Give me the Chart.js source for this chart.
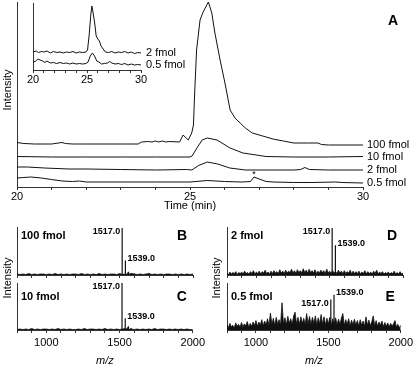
<!DOCTYPE html>
<html>
<head>
<meta charset="utf-8">
<title>Sensitivity: chromatograms and spectra</title>
<script src="https://cdn.jsdelivr.net/npm/chart.js@4.4.1/dist/chart.umd.min.js"></script>
<style>
  body { margin: 0; background: #fff; }
  #fig { position: relative; width: 416px; height: 368px; overflow: hidden; background: #fff;
         font-family: "Liberation Sans", Arial, Helvetica, sans-serif; color: #000; }
  #fig canvas { position: absolute; }
  .ylab { position: absolute; width: 70px; height: 14px; line-height: 14px; font-size: 11px;
          text-align: center; transform: rotate(-90deg); white-space: nowrap; }
</style>
</head>
<body>
<div id="fig">
  <canvas id="chromA" width="416" height="215" style="left:0;top:0"></canvas>
  <canvas id="inset" width="200" height="90" style="left:0;top:0"></canvas>
  <canvas id="specB" width="208" height="60" style="left:0;top:220px"></canvas>
  <canvas id="specC" width="208" height="90" style="left:0;top:278px"></canvas>
  <canvas id="specD" width="208" height="60" style="left:208px;top:220px"></canvas>
  <canvas id="specE" width="208" height="90" style="left:208px;top:278px"></canvas>
  <div class="ylab" style="left:-28px;top:83px">Intensity</div>
  <div class="ylab" style="left:-28px;top:271px">Intensity</div>
  <div class="ylab" style="left:181px;top:271px">Intensity</div>
</div>
<script>
// ---- panel A: extracted ion chromatograms (time in min, stacked intensity) ----
const t100 = [20, 20.2, 20.5, 21, 21.3, 21.4, 21.6, 22, 23, 23.5, 23.6, 23.8, 23.9, 24, 24.1, 24.2, 24.3, 24.4, 24.7, 24.8, 24.95,
  25.05, 25.1, 25.13, 25.19, 25.29, 25.38, 25.53, 25.63, 25.72, 25.87, 26.01, 26.16, 26.3, 26.45, 26.6, 26.8, 27.1, 27.4, 27.7,
  28, 28.4, 28.7, 28.8, 29, 30];
const y100 = [44.5, 43.5, 43, 43, 44.5, 43.5, 43, 43, 43, 43, 45, 45.5, 45, 46, 45, 46, 45, 45.5, 45, 52, 47,
  54, 62, 90, 137, 167, 175, 185, 174, 154, 127, 104, 77, 69, 64, 59, 54, 51, 48, 46,
  44, 44, 44, 42.5, 42, 42];

const t10 = [20, 21, 22, 23, 24, 25, 25.06, 25.2, 25.35, 25.5, 25.78, 26.16, 26.53, 27.2, 28, 29, 30];
const y10 = [30.5, 30, 30, 30, 30, 30, 31, 39, 47, 49, 47, 39, 34, 30.5, 30, 30, 30.5];

const t2 = [20, 20.3, 20.8, 21.5, 22, 23, 24, 24.9, 25.05, 25.25, 25.5, 25.8, 26.15, 26.6, 27, 28, 28.2, 28.32, 28.45, 29, 30];
const y2 = [20, 20, 19, 18, 18, 17.5, 17, 17.5, 17, 21.5, 25, 23, 19, 17, 17, 17, 17.5, 19.5, 17.5, 17, 17];

const t05 = [20, 20.2, 20.4, 20.7, 21, 21.3, 21.6, 21.8, 22, 23, 24, 25, 25.5, 26, 26.5, 26.75, 26.85, 27, 27.2, 27.4,
  28, 28.5, 29.2, 29.4, 30];
const y05 = [9, 9.5, 10, 9, 7.5, 6, 5.5, 6, 5, 5, 5, 5, 6.5, 5.5, 5, 5.5, 10, 8, 5.5, 5,
  4.5, 4.5, 5, 4.5, 4];
const starAt = { t: 26.85, v: 12 };

// inset: 2 fmol and 0.5 fmol enlarged
const insetT2 = [20, 20.3, 20.5, 20.8, 21, 21.3, 21.6, 21.9, 22.2, 22.5, 22.8, 23.1, 23.4, 23.7, 24, 24.3, 24.6, 24.9,
  25.05, 25.2, 25.35, 25.45, 25.55, 25.7, 25.85, 26, 26.15, 26.3, 26.5, 26.7, 27, 27.3, 27.6, 27.9, 28.2, 28.5, 28.8,
  29.1, 29.4, 29.7, 30];
const insetY2 = [18, 19, 17.5, 18.5, 18, 19, 17, 18.5, 17.5, 18, 17, 18, 17.5, 18.5, 17, 18, 17.5, 18,
  20, 35, 55, 64, 58, 48, 34, 31, 29, 24, 21, 18, 17.5, 18.5, 17, 18, 17.5, 18.5, 17,
  18, 16.5, 17.5, 17];
const insetT05 = [20, 20.2, 20.45, 20.65, 20.9, 21.1, 21.3, 21.6, 21.9, 22.2, 22.5, 22.8, 23.1, 23.4, 23.7, 24, 24.3, 24.6,
  24.9, 25.1, 25.3, 25.5, 25.7, 25.9, 26.1, 26.35, 26.6, 26.9, 27.1, 27.3, 27.6, 27.9, 28.2, 28.5, 28.8, 29.1, 29.4,
  29.7, 30];
const insetY05 = [8, 8.5, 11, 10, 9, 7.5, 9, 7, 7.5, 6.5, 7.5, 6.5, 7, 6, 7, 6, 6.5, 6,
  6.5, 8, 14, 17, 14, 9, 8, 6, 6.5, 7, 8.5, 7, 6, 6.5, 5.5, 6.5, 5, 6, 5,
  5.5, 5];

// ---- panels B-E: MALDI spectra (m/z, relative intensity %) ----
const mzCoarse = [800, 820, 840, 860, 880, 900, 920, 940, 960, 980,
  1000, 1020, 1040, 1060, 1080, 1100, 1120, 1140, 1160, 1180,
  1200, 1220, 1240, 1260, 1280, 1300, 1320, 1340, 1360, 1380,
  1400, 1420, 1440, 1460, 1480, 1500, 1520, 1540, 1560, 1580,
  1600, 1620, 1640, 1660, 1680, 1700, 1720, 1740, 1760, 1780,
  1800, 1820, 1840, 1860, 1880, 1900, 1920, 1940, 1960, 1980,
  2000];
const mzFine = [800, 810, 820, 830, 840, 850, 860, 870, 880, 890,
  900, 910, 920, 930, 940, 950, 960, 970, 980, 990,
  1000, 1010, 1020, 1030, 1040, 1050, 1060, 1070, 1080, 1090,
  1100, 1110, 1120, 1130, 1140, 1150, 1160, 1170, 1180, 1190,
  1200, 1210, 1220, 1230, 1240, 1250, 1260, 1270, 1280, 1290,
  1300, 1310, 1320, 1330, 1340, 1350, 1360, 1370, 1380, 1390,
  1400, 1410, 1420, 1430, 1440, 1450, 1460, 1470, 1480, 1490,
  1500, 1510, 1520, 1530, 1540, 1550, 1560, 1570, 1580, 1590,
  1600, 1610, 1620, 1630, 1640, 1650, 1660, 1670, 1680, 1690,
  1700, 1710, 1720, 1730, 1740, 1750, 1760, 1770, 1780, 1790,
  1800, 1810, 1820, 1830, 1840, 1850, 1860, 1870, 1880, 1890,
  1900, 1910, 1920, 1930, 1940, 1950, 1960, 1970, 1980, 1990,
  2000];
const noiseB = [2, 1, 2, 1, 3, 1, 2, 1, 2, 2,  1, 2, 1, 3, 1, 2, 1, 2, 1, 2,  2, 1, 3, 1, 2, 1, 2, 1, 3, 1,
  2, 1, 2, 2, 1, 3, 1, 2, 1, 3,  2, 1, 2, 1, 2, 3, 1, 2, 1, 2,  1, 2, 2, 1, 2, 1, 2, 1, 2, 1,  2];
const noiseC = [1, 2, 1, 2, 1, 3, 1, 2, 1, 2,  2, 1, 2, 1, 3, 1, 2, 1, 2, 1,  1, 2, 1, 3, 1, 2, 2, 1, 2, 1,
  3, 1, 2, 1, 2, 1, 2, 3, 1, 2,  1, 2, 1, 2, 1, 2, 1, 3, 1, 2,  2, 1, 2, 1, 2, 1, 2, 1, 2, 1,  1];
const noiseD = [4, 1, 6, 2, 5, 3, 7, 1, 5, 3,
  6, 2, 8, 3, 5, 2, 7, 3, 9, 2,
  6, 3, 8, 2, 7, 4, 10, 3, 6, 2,
  8, 3, 9, 4, 7, 3, 11, 4, 8, 3,
  10, 4, 8, 5, 12, 4, 9, 3, 11, 5,
  9, 4, 13, 5, 10, 4, 12, 5, 9, 4,
  11, 3, 8, 4, 10, 5, 9, 3, 12, 4,
  8, 3, 9, 4, 7, 3, 10, 4, 8, 3,
  9, 3, 7, 4, 10, 2, 8, 3, 7, 3,
  8, 2, 6, 3, 9, 2, 7, 3, 6, 2,
  8, 3, 10, 2, 6, 3, 7, 2, 5, 3,
  6, 2, 5, 3, 8, 2, 5, 2, 7, 2,
  4];
const noiseE = [12, 5, 14, 7, 10, 4, 15, 8, 12, 6,
  16, 7, 13, 9, 18, 6, 14, 8, 17, 9,
  20, 8, 17, 10, 22, 9, 19, 11, 24, 10,
  36, 12, 25, 10, 27, 13, 22, 11, 58, 12,
  26, 11, 29, 14, 24, 12, 30, 38, 13, 27,
  12, 28, 14, 25, 11, 35, 13, 29, 12, 27,
  14, 30, 11, 26, 13, 33, 12, 28, 11, 25,
  13, 27, 10, 24, 12, 26, 11, 23, 12, 25,
  35, 10, 22, 12, 24, 9, 21, 11, 23, 10,
  20, 9, 22, 10, 19, 8, 28, 10, 21, 9,
  18, 30, 9, 20, 8, 17, 10, 19, 7, 16,
  8, 15, 7, 14, 9, 13, 20, 6, 12, 5,
  10];

const peakMzB = [1517.0, 1539.0, 1555, 1561, 1578, 1600];
const peakIntB = [98, 30, 5, 7, 4, 3];
const peakMzC = [1517.0, 1539.0, 1555, 1561, 1578];
const peakIntC = [100, 25, 6, 8, 4];
const peakMzD = [1517.0, 1539.0];
const peakIntD = [98, 62];
const peakMzE = [1517.0, 1539.0];
const peakIntE = [65, 75];
const labelledMz = [1517.0, 1539.0];

const FONT = '"Liberation Sans", Arial, Helvetica, sans-serif';
const INK = '#111';
const AXIS = '#333';

Chart.defaults.font.family = FONT;
Chart.defaults.font.size = 11;
Chart.defaults.color = '#000';
Chart.defaults.animation = false;
Chart.defaults.plugins.legend.display = false;
Chart.defaults.plugins.tooltip.enabled = false;

function trace(t, y, label) {
  return {
    label: label,
    data: t.map((v, i) => ({ x: v, y: y[i] })),
    borderColor: INK, borderWidth: 1, pointRadius: 0, tension: 0, fill: false
  };
}

function xAxis(min, max, step, labelEvery, height, pad, title) {
  return {
    type: 'linear', min: min, max: max,
    afterFit: s => { s.height = height; },
    grid: { display: true, drawOnChartArea: false, drawTicks: true, tickLength: 3, color: AXIS },
    border: { display: true, color: AXIS, width: 1 },
    ticks: {
      stepSize: step, padding: pad, maxRotation: 0, autoSkip: false,
      callback: v => (labelEvery && v % labelEvery === 0) ? String(v) : ''
    },
    title: title
  };
}

function yAxis(min, max, width) {
  return {
    type: 'linear', min: min, max: max,
    afterFit: s => { s.width = width; },
    grid: { display: false },
    border: { display: true, color: AXIS, width: 1 },
    ticks: { display: false }
  };
}

// names at the end of each trace, panel letter, asterisk
const traceLabels = {
  id: 'traceLabels',
  afterDatasetsDraw(chart, args, opts) {
    const { ctx, chartArea: a, scales: { x, y } } = chart;
    ctx.save();
    ctx.fillStyle = '#000';
    ctx.font = '11px ' + FONT;
    ctx.textAlign = 'left';
    ctx.textBaseline = 'middle';
    chart.data.datasets.forEach(ds => {
      const last = ds.data[ds.data.length - 1];
      ctx.fillText(ds.label, a.right + opts.gap, y.getPixelForValue(last.y));
    });
    if (opts.letter) {
      ctx.font = 'bold 14px ' + FONT;
      ctx.textAlign = 'center';
      ctx.fillText(opts.letter, a.right + 30, a.top + 19);
    }
    if (opts.star) {
      ctx.font = '9px ' + FONT;
      ctx.textAlign = 'center';
      ctx.fillText('*', x.getPixelForValue(opts.star.t), y.getPixelForValue(opts.star.v));
    }
    ctx.restore();
  }
};

new Chart(document.getElementById('chromA'), {
  type: 'line',
  data: { datasets: [trace(t100, y100, '100 fmol'), trace(t10, y10, '10 fmol'), trace(t2, y2, '2 fmol'), trace(t05, y05, '0.5 fmol')] },
  options: {
    responsive: false, devicePixelRatio: 1,
    layout: { padding: { left: 0, right: 53, top: 2, bottom: 0 } },
    scales: {
      x: xAxis(20, 30, 1, 5, 28, 0, { display: true, text: 'Time (min)', padding: { top: 0, bottom: 2 }, font: { size: 11 } }),
      y: yAxis(0, 185, 17)
    },
    plugins: { traceLabels: { gap: 4, letter: 'A', star: starAt } }
  },
  plugins: [traceLabels]
});

new Chart(document.getElementById('inset'), {
  type: 'line',
  data: { datasets: [trace(insetT2, insetY2, '2 fmol'), trace(insetT05, insetY05, '0.5 fmol')] },
  options: {
    responsive: false, devicePixelRatio: 1,
    layout: { padding: { left: 0, right: 59, top: 3, bottom: 0 } },
    scales: {
      x: xAxis(20, 30, 1, 5, 20, 0, { display: false }),
      y: yAxis(0, 67, 33)
    },
    plugins: { traceLabels: { gap: 5 } }
  },
  plugins: [traceLabels]
});

// sample amount, panel letter and the two labelled peaks
const specLabels = {
  id: 'specLabels',
  afterDatasetsDraw(chart, args, opts) {
    const { ctx, chartArea: a, scales: { x, y } } = chart;
    ctx.save();
    ctx.fillStyle = '#000';
    ctx.textBaseline = 'middle';
    ctx.font = 'bold 11px ' + FONT;
    ctx.textAlign = 'left';
    ctx.fillText(opts.sample, a.left + 4, a.top + opts.dy);
    ctx.font = 'bold 14px ' + FONT;
    ctx.textAlign = 'right';
    ctx.fillText(opts.letter, a.right - 6, a.top + opts.dy);
    ctx.font = 'bold 9px ' + FONT;
    labelledMz.forEach((m, k) => {
      const i = opts.mz.indexOf(m);
      const px = x.getPixelForValue(m);
      const py = y.getPixelForValue(opts.ints[i]);
      if (k === 0) {
        ctx.textAlign = 'right';
        ctx.fillText(m.toFixed(1), px - 2, py + 4);
      } else {
        ctx.textAlign = 'left';
        ctx.fillText(m.toFixed(1), px + 2, py - 2);
      }
    });
    ctx.restore();
  }
};

function spectrum(id, grid, noise, mz, ints, o) {
  return new Chart(document.getElementById(id), {
    type: 'line',
    data: {
      datasets: [
        { data: grid.map((m, i) => ({ x: m, y: noise[i] })), borderColor: INK, borderWidth: 0.8,
          backgroundColor: INK, fill: 'origin', pointRadius: 0, tension: 0 },
        { data: mz.flatMap((m, i) => [{ x: m, y: 0 }, { x: m, y: ints[i] }, { x: m, y: 0 }]),
          borderColor: INK, borderWidth: 1.2, pointRadius: 0, tension: 0, fill: false }
      ]
    },
    options: {
      responsive: false, devicePixelRatio: 1,
      layout: { padding: { left: 0, right: o.right, top: o.top, bottom: 0 } },
      scales: {
        x: xAxis(800, 2000, 100, o.labels ? 500 : 0, o.xh, 3,
          o.labels ? { display: true, text: 'm/z', padding: { top: 0, bottom: 0 }, font: { size: 11, style: 'italic' } } : { display: false }),
        y: yAxis(0, 100, o.yw)
      },
      plugins: { specLabels: { sample: o.sample, letter: o.letter, dy: o.dy, mz: mz, ints: ints } }
    },
    plugins: [specLabels]
  });
}

spectrum('specB', mzCoarse, noiseB, peakMzB, peakIntB, { right: 15, top: 7, xh: 5, yw: 17, labels: false, sample: '100 fmol', letter: 'B', dy: 9 });
spectrum('specC', mzCoarse, noiseC, peakMzC, peakIntC, { right: 15, top: 5, xh: 38, yw: 17, labels: true, sample: '10 fmol', letter: 'C', dy: 14 });
spectrum('specD', mzFine, noiseD, peakMzD, peakIntD, { right: 13, top: 7, xh: 5, yw: 19, labels: false, sample: '2 fmol', letter: 'D', dy: 9 });
spectrum('specE', mzFine, noiseE, peakMzE, peakIntE, { right: 13, top: 5, xh: 38, yw: 19, labels: true, sample: '0.5 fmol', letter: 'E', dy: 14 });
</script>
</body>
</html>
